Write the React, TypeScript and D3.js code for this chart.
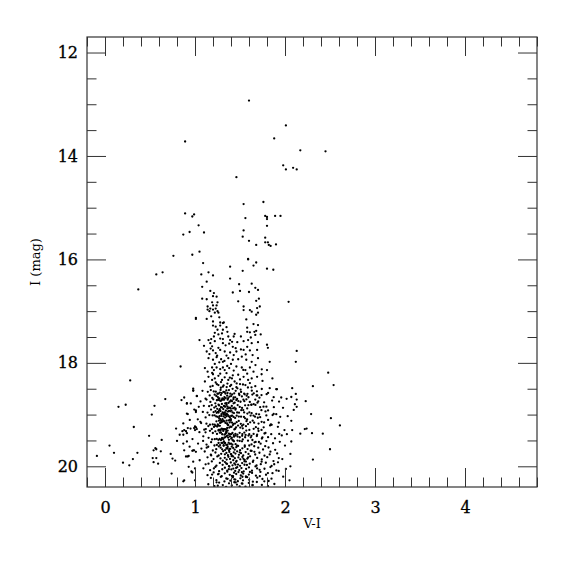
import React, { useRef, useEffect } from 'react';
import * as d3 from 'd3';

type Star = [number, number]; // [V-I, I]

// bright stars above the branch
const brightGiants: Star[] = [
  [1.60, 12.93], [2.01, 13.41], [0.89, 13.72], [1.88, 13.66], [2.17, 13.89], [2.45, 13.91],
  [1.98, 14.18], [2.01, 14.26], [2.09, 14.23], [2.13, 14.26], [1.46, 14.41], [1.54, 14.93],
  [1.76, 14.89], [0.89, 15.11], [0.97, 15.17], [0.99, 15.13], [1.56, 15.20], [1.78, 15.16],
  [1.80, 15.18], [1.80, 15.22], [1.89, 15.16], [1.95, 15.16], [1.04, 15.34], [1.54, 15.44],
  [1.80, 15.35], [0.87, 15.52], [0.94, 15.47], [1.10, 15.48],
];

const upperBranch: Star[] = [
  [1.53, 15.56], [1.60, 15.64], [1.68, 15.72], [1.78, 15.58], [1.78, 15.67], [1.81, 15.67],
  [1.82, 15.72], [1.84, 15.74], [1.90, 15.71], [0.97, 15.91], [1.05, 15.85], [0.76, 15.93],
  [1.59, 15.99], [1.59, 16.00], [1.68, 16.06], [1.65, 16.12], [1.09, 16.07], [1.39, 16.14],
  [1.80, 16.18], [1.87, 16.20], [1.53, 16.22], [1.15, 16.25], [1.07, 16.29], [1.20, 16.31],
  [1.39, 16.37], [0.57, 16.29], [0.64, 16.25], [0.37, 16.58], [1.13, 16.43], [1.08, 16.53],
  [1.49, 16.48], [1.63, 16.47], [1.67, 16.55], [1.70, 16.59], [1.42, 16.64], [1.50, 16.61],
  [1.60, 16.63], [1.17, 16.61], [1.21, 16.65], [1.24, 16.72], [1.20, 16.71], [1.08, 16.76],
  [1.13, 16.77], [1.19, 16.83], [1.25, 16.83], [1.20, 16.89], [1.24, 16.89], [1.48, 16.81],
  [1.68, 16.80], [1.71, 16.76], [2.04, 16.82], [1.14, 16.91], [1.17, 16.95], [1.14, 16.97],
  [1.20, 16.97], [1.16, 17.00], [1.23, 16.95], [1.25, 17.00], [1.22, 17.03], [1.26, 17.03],
  [1.54, 16.91], [1.54, 16.98], [1.61, 16.98], [1.63, 17.01], [1.70, 17.03], [1.69, 16.94],
  [1.72, 16.91],
];

const redGiantBranch: Star[] = [
  [1.01, 17.13], [1.01, 17.15], [1.13, 17.15], [1.20, 17.20], [1.28, 17.22], [1.32, 17.22],
  [1.68, 17.07], [1.57, 17.16], [1.20, 17.28], [1.23, 17.30], [1.28, 17.28], [1.31, 17.23],
  [1.58, 17.32], [1.65, 17.25], [1.70, 17.27], [1.66, 17.40], [1.58, 17.40], [1.61, 17.41],
  [1.68, 17.38], [1.73, 17.45], [1.05, 17.56], [1.10, 17.67], [1.15, 17.56], [1.17, 17.62],
  [1.18, 17.54], [1.22, 17.58], [1.22, 17.42], [1.21, 17.49], [1.26, 17.45], [1.30, 17.43],
  [1.31, 17.36], [1.36, 17.40], [1.28, 17.53], [1.31, 17.54], [1.37, 17.49], [1.39, 17.56],
  [1.43, 17.49], [1.31, 17.62], [1.38, 17.63], [1.42, 17.69], [1.44, 17.44], [1.51, 17.49],
  [1.54, 17.58], [1.59, 17.56], [1.62, 17.51], [1.67, 17.46], [1.63, 17.62], [1.58, 17.69],
  [1.54, 17.75], [1.51, 17.74], [1.61, 17.76], [1.69, 17.75], [1.64, 17.85], [1.70, 17.60],
  [1.80, 17.65], [1.81, 17.71], [1.83, 17.98], [1.80, 18.14],
  [1.13, 17.78], [1.16, 17.83], [1.20, 17.76], [1.23, 17.81], [1.28, 17.75], [1.33, 17.78],
  [1.39, 17.80], [1.43, 17.85], [1.46, 17.78],
  [1.15, 17.91], [1.20, 17.94], [1.24, 17.89], [1.29, 17.93], [1.31, 17.98], [1.37, 17.91],
  [1.42, 17.94], [1.48, 17.93], [1.52, 17.88], [1.57, 17.94], [1.63, 17.98], [1.70, 17.91],
  [1.11, 18.10], [1.14, 18.17], [1.19, 18.09], [1.21, 18.14], [1.24, 18.09], [1.28, 18.12],
  [1.31, 18.09], [1.33, 18.14], [1.38, 18.10], [1.43, 18.15], [1.46, 18.07], [1.52, 18.09],
  [1.56, 18.14], [1.61, 18.09], [1.65, 18.17], [1.48, 18.23],
  [1.15, 18.27], [1.19, 18.33], [1.22, 18.30], [1.26, 18.25], [1.30, 18.33], [1.33, 18.28],
  [1.37, 18.33], [1.41, 18.30], [1.44, 18.36], [1.50, 18.32], [1.54, 18.27], [1.59, 18.33],
  [1.63, 18.30], [1.69, 18.27], [1.11, 18.36], [1.26, 18.43], [1.31, 18.46], [1.39, 18.45],
  [1.46, 18.47], [1.56, 18.43], [1.61, 18.39], [1.67, 18.45], [1.17, 18.46],
  [1.18, 17.10], [1.27, 17.12], [1.35, 17.31], [1.25, 17.36], [1.19, 17.68], [1.26, 17.71],
  [1.34, 17.66], [1.47, 17.60], [1.35, 17.86], [1.27, 17.99], [1.40, 18.02], [1.22, 18.02],
  [1.35, 18.20], [1.28, 18.21], [1.20, 18.22], [1.42, 18.24], [1.58, 18.21], [1.74, 18.22],
  [1.36, 18.40], [1.23, 18.38], [1.50, 18.41], [1.75, 18.35], [1.86, 18.30],
  [1.243, 18.412], [1.318, 18.437], [1.287, 18.481], [1.402, 18.426], [1.352, 18.468], [1.471, 18.493],
  [1.196, 18.445], [1.533, 18.418], [1.628, 18.472],
  [1.174, 17.724], [1.246, 17.862], [1.327, 17.963], [1.452, 17.717], [1.563, 17.837], [1.672, 18.043],
  [1.191, 18.196], [1.387, 18.287], [1.537, 18.136], [1.289, 18.371], [1.463, 18.398], [1.412, 17.593],
  [1.358, 18.061], [1.742, 18.124], [1.588, 18.476],
];

// the faint clump, read band by band (0.1 mag bands)
const faintClump: Star[] = [
  [0.981, 18.531], [1.083, 18.541], [1.142, 18.559], [1.176, 18.526], [1.208, 18.553], [1.231, 18.558], [1.249, 18.597],
  [1.262, 18.593], [1.284, 18.523], [1.297, 18.584], [1.316, 18.562], [1.331, 18.564], [1.348, 18.533], [1.361, 18.583],
  [1.377, 18.527], [1.392, 18.595], [1.418, 18.502], [1.436, 18.588], [1.452, 18.541], [1.489, 18.597], [1.507, 18.516],
  [1.546, 18.593], [1.583, 18.599], [1.631, 18.537], [1.688, 18.551], [1.742, 18.505], [1.812, 18.582], [1.903, 18.509],
  [1.276, 18.574], [1.338, 18.594],
  [1.021, 18.645], [1.117, 18.692], [1.163, 18.630], [1.192, 18.678], [1.219, 18.616], [1.237, 18.640], [1.254, 18.662],
  [1.271, 18.686], [1.288, 18.620], [1.304, 18.689], [1.319, 18.698], [1.327, 18.662], [1.342, 18.680], [1.357, 18.634],
  [1.368, 18.682], [1.383, 18.653], [1.401, 18.642], [1.413, 18.611], [1.429, 18.670], [1.447, 18.667], [1.468, 18.698],
  [1.493, 18.621], [1.521, 18.648], [1.552, 18.608], [1.594, 18.665], [1.637, 18.613], [1.684, 18.628], [1.739, 18.623],
  [1.796, 18.606], [1.874, 18.664], [1.958, 18.670], [1.263, 18.693],
  [0.953, 18.784], [1.061, 18.746], [1.128, 18.709], [1.171, 18.755], [1.203, 18.705], [1.226, 18.782], [1.243, 18.723],
  [1.258, 18.717], [1.273, 18.725], [1.286, 18.735], [1.299, 18.794], [1.312, 18.708], [1.324, 18.712], [1.336, 18.784],
  [1.349, 18.781], [1.363, 18.711], [1.372, 18.774], [1.386, 18.750], [1.398, 18.728], [1.411, 18.741], [1.427, 18.702],
  [1.441, 18.770], [1.459, 18.719], [1.481, 18.738], [1.506, 18.752], [1.538, 18.711], [1.571, 18.705], [1.609, 18.755],
  [1.652, 18.796], [1.703, 18.744], [1.768, 18.762], [1.857, 18.729], [1.934, 18.748], [2.018, 18.695],
  [1.042, 18.849], [1.098, 18.830], [1.157, 18.838], [1.186, 18.819], [1.214, 18.864], [1.232, 18.842], [1.247, 18.888],
  [1.261, 18.810], [1.276, 18.897], [1.289, 18.856], [1.301, 18.865], [1.314, 18.893], [1.322, 18.834], [1.338, 18.846],
  [1.351, 18.812], [1.359, 18.884], [1.374, 18.875], [1.388, 18.864], [1.397, 18.882], [1.409, 18.833], [1.423, 18.878],
  [1.438, 18.867], [1.452, 18.883], [1.474, 18.816], [1.497, 18.852], [1.523, 18.871], [1.557, 18.820], [1.593, 18.819],
  [1.626, 18.809], [1.671, 18.814], [1.724, 18.856], [1.793, 18.848], [1.876, 18.856], [1.978, 18.869], [1.268, 18.823],
  [1.331, 18.846],
  [0.992, 18.903], [1.087, 18.948], [1.139, 18.961], [1.178, 18.904], [1.207, 18.954], [1.228, 18.932], [1.241, 18.966],
  [1.256, 18.948], [1.268, 18.921], [1.283, 18.933], [1.294, 18.993], [1.307, 18.960], [1.318, 18.972], [1.331, 18.960],
  [1.343, 18.924], [1.354, 18.991], [1.366, 18.941], [1.378, 18.927], [1.391, 18.937], [1.404, 18.924], [1.417, 18.958],
  [1.433, 18.970], [1.449, 18.906], [1.468, 18.960], [1.489, 18.963], [1.514, 18.915], [1.546, 18.958], [1.582, 18.981],
  [1.629, 18.974], [1.681, 18.988], [1.738, 18.915], [1.812, 18.920], [1.903, 18.992], [2.097, 18.909], [1.262, 18.962],
  [1.347, 18.982],
  [1.031, 19.092], [1.118, 19.054], [1.159, 19.009], [1.196, 19.017], [1.218, 19.015], [1.236, 19.036], [1.252, 19.043],
  [1.267, 19.067], [1.281, 19.089], [1.293, 19.025], [1.306, 19.090], [1.317, 19.036], [1.328, 19.000], [1.341, 19.011],
  [1.352, 19.033], [1.364, 19.005], [1.376, 19.030], [1.387, 19.054], [1.399, 19.088], [1.413, 19.020], [1.428, 19.046],
  [1.446, 19.065], [1.463, 19.021], [1.487, 19.038], [1.512, 19.041], [1.544, 19.046], [1.579, 19.095], [1.618, 19.019],
  [1.667, 19.041], [1.724, 19.051], [1.793, 19.016], [1.862, 19.009], [1.947, 19.043], [1.273, 19.030], [1.334, 19.057],
  [1.402, 19.027],
  [0.942, 19.103], [1.068, 19.165], [1.127, 19.175], [1.166, 19.195], [1.197, 19.191], [1.219, 19.195], [1.238, 19.130],
  [1.253, 19.192], [1.266, 19.118], [1.279, 19.161], [1.291, 19.117], [1.303, 19.138], [1.316, 19.119], [1.326, 19.132],
  [1.339, 19.161], [1.351, 19.117], [1.362, 19.193], [1.374, 19.110], [1.386, 19.151], [1.398, 19.118], [1.411, 19.154],
  [1.427, 19.180], [1.444, 19.174], [1.463, 19.146], [1.486, 19.123], [1.509, 19.179], [1.537, 19.196], [1.572, 19.127],
  [1.613, 19.149], [1.657, 19.156], [1.706, 19.173], [1.768, 19.151], [1.843, 19.188], [1.931, 19.157], [1.288, 19.152],
  [1.357, 19.172],
  [1.012, 19.248], [1.103, 19.291], [1.148, 19.222], [1.186, 19.279], [1.211, 19.238], [1.229, 19.218], [1.246, 19.230],
  [1.259, 19.211], [1.272, 19.294], [1.284, 19.291], [1.297, 19.271], [1.309, 19.282], [1.321, 19.281], [1.333, 19.282],
  [1.346, 19.284], [1.358, 19.259], [1.369, 19.204], [1.381, 19.252], [1.393, 19.235], [1.406, 19.236], [1.421, 19.202],
  [1.437, 19.287], [1.456, 19.247], [1.478, 19.213], [1.503, 19.252], [1.531, 19.266], [1.566, 19.224], [1.604, 19.297],
  [1.652, 19.275], [1.702, 19.272], [1.763, 19.247], [1.834, 19.209], [1.921, 19.236], [1.994, 19.299], [1.263, 19.295],
  [1.317, 19.295],
  [1.049, 19.341], [1.117, 19.342], [1.166, 19.313], [1.198, 19.356], [1.226, 19.323], [1.244, 19.373], [1.261, 19.309],
  [1.276, 19.350], [1.288, 19.348], [1.302, 19.380], [1.314, 19.316], [1.327, 19.388], [1.339, 19.372], [1.351, 19.342],
  [1.363, 19.309], [1.376, 19.369], [1.388, 19.380], [1.401, 19.378], [1.416, 19.356], [1.431, 19.396], [1.449, 19.371],
  [1.471, 19.387], [1.496, 19.353], [1.526, 19.376], [1.562, 19.394], [1.603, 19.380], [1.651, 19.373], [1.706, 19.317],
  [1.772, 19.366], [1.847, 19.379], [1.936, 19.373], [2.021, 19.379], [1.283, 19.312], [1.343, 19.358],
  [0.972, 19.473], [1.092, 19.420], [1.151, 19.450], [1.189, 19.480], [1.219, 19.475], [1.241, 19.468], [1.259, 19.487],
  [1.274, 19.472], [1.287, 19.493], [1.301, 19.452], [1.313, 19.474], [1.326, 19.446], [1.338, 19.434], [1.351, 19.415],
  [1.364, 19.405], [1.377, 19.487], [1.389, 19.423], [1.403, 19.466], [1.418, 19.494], [1.434, 19.428], [1.452, 19.405],
  [1.473, 19.425], [1.497, 19.438], [1.524, 19.410], [1.557, 19.438], [1.594, 19.406], [1.638, 19.491], [1.687, 19.414],
  [1.743, 19.462], [1.812, 19.437], [1.889, 19.458], [1.964, 19.403], [1.296, 19.477], [1.368, 19.445],
  [1.034, 19.561], [1.128, 19.580], [1.179, 19.533], [1.216, 19.598], [1.243, 19.587], [1.262, 19.549], [1.279, 19.589],
  [1.294, 19.548], [1.308, 19.548], [1.321, 19.520], [1.334, 19.545], [1.347, 19.586], [1.361, 19.583], [1.374, 19.543],
  [1.387, 19.565], [1.401, 19.563], [1.416, 19.581], [1.433, 19.517], [1.451, 19.572], [1.472, 19.503], [1.496, 19.509],
  [1.522, 19.517], [1.553, 19.598], [1.589, 19.505], [1.628, 19.576], [1.674, 19.528], [1.729, 19.562], [1.793, 19.513],
  [1.867, 19.554], [1.942, 19.527], [1.318, 19.591], [1.427, 19.506],
  [1.071, 19.657], [1.147, 19.622], [1.198, 19.694], [1.236, 19.668], [1.264, 19.613], [1.285, 19.639], [1.302, 19.671],
  [1.319, 19.604], [1.334, 19.686], [1.349, 19.650], [1.363, 19.627], [1.378, 19.693], [1.392, 19.662], [1.408, 19.618],
  [1.424, 19.645], [1.441, 19.679], [1.459, 19.631], [1.479, 19.606], [1.501, 19.688], [1.526, 19.653], [1.553, 19.624],
  [1.584, 19.667], [1.619, 19.699], [1.658, 19.612], [1.703, 19.640], [1.756, 19.675], [1.817, 19.636], [1.891, 19.681],
  [1.356, 19.659], [1.468, 19.602],
  [1.108, 19.714], [1.176, 19.776], [1.227, 19.733], [1.263, 19.791], [1.291, 19.758], [1.313, 19.707], [1.332, 19.769],
  [1.349, 19.742], [1.366, 19.785], [1.382, 19.721], [1.398, 19.763], [1.414, 19.797], [1.431, 19.730], [1.449, 19.754],
  [1.468, 19.711], [1.488, 19.778], [1.511, 19.746], [1.536, 19.789], [1.563, 19.725], [1.594, 19.760], [1.629, 19.703],
  [1.669, 19.772], [1.716, 19.738], [1.772, 19.794], [1.838, 19.717], [1.913, 19.751], [1.403, 19.766], [1.497, 19.729],
  [1.052, 19.883], [1.139, 19.826], [1.206, 19.861], [1.248, 19.809], [1.283, 19.847], [1.309, 19.892], [1.331, 19.835],
  [1.352, 19.870], [1.371, 19.815], [1.389, 19.858], [1.407, 19.804], [1.425, 19.881], [1.443, 19.843], [1.462, 19.896],
  [1.482, 19.828], [1.503, 19.864], [1.527, 19.819], [1.552, 19.875], [1.581, 19.852], [1.612, 19.807], [1.648, 19.889],
  [1.691, 19.837], [1.742, 19.866], [1.803, 19.823], [1.872, 19.898], [1.931, 19.841], [1.424, 19.812], [1.538, 19.855],
  [1.118, 19.962], [1.187, 19.905], [1.238, 19.988], [1.276, 19.934], [1.307, 19.971], [1.333, 19.919], [1.356, 19.953],
  [1.377, 19.997], [1.398, 19.926], [1.417, 19.980], [1.437, 19.944], [1.457, 19.913], [1.478, 19.967], [1.501, 19.991],
  [1.524, 19.938], [1.549, 19.902], [1.577, 19.975], [1.608, 19.949], [1.643, 19.916], [1.684, 19.984], [1.731, 19.959],
  [1.787, 19.931], [1.851, 19.993], [1.922, 19.922], [1.449, 19.968], [1.566, 19.908], [1.347, 19.945],
  [1.093, 20.039], [1.168, 20.074], [1.226, 20.012], [1.268, 20.095], [1.303, 20.057], [1.332, 20.028], [1.358, 20.083],
  [1.382, 20.006], [1.404, 20.061], [1.426, 20.044], [1.447, 20.090], [1.469, 20.017], [1.492, 20.072], [1.516, 20.035],
  [1.541, 20.099], [1.568, 20.050], [1.599, 20.021], [1.633, 20.086], [1.672, 20.003], [1.718, 20.068], [1.772, 20.047],
  [1.838, 20.014], [1.904, 20.079], [1.457, 20.032], [1.376, 20.056],
  [1.139, 20.171], [1.207, 20.118], [1.256, 20.154], [1.297, 20.192], [1.331, 20.136], [1.359, 20.103], [1.386, 20.165],
  [1.411, 20.187], [1.434, 20.124], [1.458, 20.149], [1.483, 20.111], [1.509, 20.178], [1.536, 20.140], [1.566, 20.196],
  [1.598, 20.159], [1.634, 20.127], [1.677, 20.182], [1.727, 20.108], [1.789, 20.163], [1.861, 20.133], [1.423, 20.191],
  [1.521, 20.115], [1.263, 20.146],
  [1.176, 20.225], [1.238, 20.268], [1.287, 20.204], [1.327, 20.293], [1.362, 20.241], [1.392, 20.277], [1.421, 20.213],
  [1.448, 20.256], [1.476, 20.289], [1.504, 20.232], [1.533, 20.270], [1.566, 20.208], [1.602, 20.261], [1.643, 20.297],
  [1.692, 20.219], [1.749, 20.245], [1.818, 20.284], [1.437, 20.252], [1.348, 20.236], [1.527, 20.202],
  [1.148, 20.347], [1.216, 20.382], [1.268, 20.315], [1.309, 20.363], [1.346, 20.396], [1.378, 20.329], [1.409, 20.371],
  [1.437, 20.308], [1.466, 20.354], [1.496, 20.388], [1.527, 20.336], [1.561, 20.392], [1.598, 20.321], [1.639, 20.367],
  [1.687, 20.303], [1.743, 20.359], [1.811, 20.384], [1.882, 20.342], [1.253, 20.376], [1.452, 20.311],
];

// outer edges of the clump
const clumpEdges: Star[] = [
  [1.62, 19.44], [1.71, 19.53], [1.78, 19.61], [1.66, 19.72], [1.83, 19.77], [1.59, 19.83], [1.74, 19.91],
  [1.69, 20.04], [1.81, 20.13], [1.58, 20.21], [1.77, 20.29], [1.64, 20.36], [1.88, 19.96], [1.55, 19.97],
  [1.61, 20.11], [1.72, 20.19], [1.85, 20.24], [1.93, 20.09], [1.52, 20.33], [1.69, 19.39], [1.57, 19.31],
  [1.74, 19.14], [1.65, 19.02], [1.58, 18.88], [1.67, 18.71], [1.13, 19.64], [1.18, 19.79], [1.09, 19.51],
  [1.15, 19.95], [1.21, 20.04], [1.12, 19.28], [1.06, 19.14], [1.24, 20.31], [1.19, 20.16],
  [1.512, 18.562], [1.574, 18.634], [1.653, 18.588], [1.716, 18.673], [1.548, 18.741], [1.627, 18.812],
  [1.694, 18.769], [1.761, 18.847], [1.536, 18.913], [1.604, 18.956], [1.712, 18.994], [1.783, 18.938],
  [1.557, 19.073], [1.641, 19.118], [1.698, 19.061], [1.812, 19.104], [1.523, 19.217], [1.589, 19.183],
  [1.676, 19.244], [1.739, 19.296], [1.548, 19.347], [1.627, 19.411], [1.783, 19.356], [1.531, 19.482],
  [1.662, 19.536], [1.603, 19.598], [1.749, 19.443], [1.852, 19.197], [1.874, 18.988], [1.692, 18.631],
  [1.297, 18.718], [1.362, 18.847], [1.318, 18.993], [1.389, 19.104], [1.276, 19.217], [1.347, 19.322],
  [1.409, 19.447], [1.332, 19.553], [1.381, 19.664], [1.429, 18.783], [1.254, 18.951], [1.447, 19.274],
];

const blueField: Star[] = [
  [0.84, 18.07], [0.28, 18.34], [0.98, 18.54], [0.67, 18.70], [0.88, 18.67], [0.91, 18.79], [0.15, 18.85], [0.23, 18.81],
  [0.55, 18.83], [0.52, 19.00], [0.92, 18.99], [1.01, 18.95], [0.32, 19.24], [0.79, 19.27], [0.86, 19.32], [0.90, 19.32],
  [0.92, 19.26], [0.95, 19.27], [0.99, 19.26], [1.00, 19.30], [1.02, 19.28], [0.87, 19.39], [0.49, 19.41], [0.63, 19.49],
  [0.80, 19.51], [0.91, 19.52], [0.87, 19.56], [0.05, 19.60], [0.10, 19.74], [0.36, 19.74], [0.56, 19.65], [0.57, 19.67],
  [0.54, 19.69], [0.62, 19.71], [0.73, 19.76], [0.97, 19.70], [0.99, 19.69], [1.01, 19.72], [0.92, 19.81], [0.93, 19.80],
  [-0.09, 19.80], [0.31, 19.86], [0.53, 19.84], [0.57, 19.84], [0.75, 19.85], [0.78, 19.89], [0.20, 19.93], [0.27, 19.98],
  [0.54, 19.92], [0.59, 19.95], [0.74, 20.14], [0.96, 20.10], [1.00, 20.04], [0.88, 20.27],
  [0.83, 19.39], [0.88, 19.30], [0.91, 19.36], [1.00, 19.23], [0.94, 19.62], [0.88, 19.69], [0.98, 19.69], [0.90, 19.81],
  [0.98, 19.91], [0.93, 20.01], [0.97, 20.12], [0.87, 20.29], [1.00, 20.27], [0.85, 18.72], [0.91, 18.78], [0.98, 18.50],
  [1.02, 18.64], [0.91, 18.98], [1.01, 18.92], [0.87, 19.17],
];

const redField: Star[] = [
  [2.13, 17.77], [2.12, 17.98], [2.48, 18.19], [2.54, 18.43], [2.31, 18.45], [2.08, 18.49], [2.07, 18.66], [2.13, 18.71],
  [2.23, 18.74], [2.13, 18.85], [2.29, 18.99], [2.51, 19.07], [2.61, 19.21], [2.07, 19.12], [2.08, 19.30], [2.22, 19.28],
  [2.24, 19.27], [2.17, 19.37], [2.30, 19.36], [2.42, 19.37], [2.07, 19.52], [2.50, 19.67], [2.06, 19.76], [2.31, 19.87],
  [2.06, 20.00], [1.83, 18.49], [1.91, 18.51], [2.12, 18.60], [2.11, 18.80], [2.01, 20.05], [2.05, 20.27], [2.00, 19.60],
  [1.97, 19.86], [1.98, 20.20], [2.03, 19.03],
];

const xMajorTicks = [0, 1, 2, 3, 4];
const yMajorTicks = [12, 14, 16, 18, 20];
const xLabel = 'V-I';
const yLabel = 'I (mag)';

function App() {
  const svgRef = useRef<SVGSVGElement>(null);

  useEffect(() => {
    const margin = { top: 37, right: 38, bottom: 88, left: 87 },
      width = 575 - margin.left - margin.right,
      height = 575 - margin.top - margin.bottom;

    const root = d3.select(svgRef.current);
    root.selectAll('*').remove();

    const g = root.append('g').attr('transform', `translate(${margin.left},${margin.top})`);

    const x = d3.scaleLinear().domain([-0.2, 4.8]).range([0, width]);
    const y = d3.scaleLinear().domain([11.7, 20.4]).range([0, height]);

    const xMinor = d3.range(-0.2, 4.81, 0.2).filter(v => Math.abs(v - Math.round(v)) > 0.01);
    const yMinor = d3.range(12, 20.41, 0.5).filter(v => v % 2 !== 0);

    const font = "'DejaVu Serif', serif";
    const major = 19, minor = 9.5;

    // clip for the stars
    g.append('clipPath').attr('id', 'plot-clip')
      .append('rect').attr('width', width).attr('height', height);

    const stars = [...brightGiants, ...upperBranch, ...redGiantBranch, ...faintClump, ...clumpEdges, ...blueField, ...redField];
    g.append('g').attr('clip-path', 'url(#plot-clip)')
      .selectAll('circle')
      .data(stars)
      .enter().append('circle')
      .attr('cx', d => x(d[0]))
      .attr('cy', d => y(d[1]))
      .attr('r', 1.15)
      .attr('fill', '#000');

    const styleAxis = (sel: any) => {
      sel.select('.domain').remove();
      sel.selectAll('line').attr('stroke', '#333').attr('stroke-width', 1);
      sel.selectAll('text').attr('font-family', font).attr('font-size', 16).attr('fill', '#000')
        .attr('stroke', '#000').attr('stroke-width', 0.3);
    };

    // bottom
    g.append('g').attr('transform', `translate(0,${height})`)
      .call(d3.axisBottom(x).tickValues(xMajorTicks).tickSize(-major).tickPadding(15).tickFormat(d3.format('d')))
      .call(styleAxis);
    g.append('g').attr('transform', `translate(0,${height})`)
      .call(d3.axisBottom(x).tickValues(xMinor).tickSize(-minor).tickFormat(() => ''))
      .call(styleAxis);
    // top
    g.append('g')
      .call(d3.axisTop(x).tickValues(xMajorTicks).tickSize(-major).tickFormat(() => ''))
      .call(styleAxis);
    g.append('g')
      .call(d3.axisTop(x).tickValues(xMinor).tickSize(-minor).tickFormat(() => ''))
      .call(styleAxis);
    // left
    g.append('g')
      .call(d3.axisLeft(y).tickValues(yMajorTicks).tickSize(-major).tickPadding(9).tickFormat(d3.format('d')))
      .call(styleAxis);
    g.append('g')
      .call(d3.axisLeft(y).tickValues(yMinor).tickSize(-minor).tickFormat(() => ''))
      .call(styleAxis);
    // right
    g.append('g').attr('transform', `translate(${width},0)`)
      .call(d3.axisRight(y).tickValues(yMajorTicks).tickSize(-major).tickFormat(() => ''))
      .call(styleAxis);
    g.append('g').attr('transform', `translate(${width},0)`)
      .call(d3.axisRight(y).tickValues(yMinor).tickSize(-minor).tickFormat(() => ''))
      .call(styleAxis);

    // frame
    g.append('rect')
      .attr('width', width).attr('height', height)
      .attr('fill', 'none').attr('stroke', '#333').attr('stroke-width', 1.2);

    // axis titles
    g.append('text')
      .attr('x', width / 2).attr('y', height + 41)
      .attr('text-anchor', 'middle')
      .attr('font-family', font).attr('font-size', 13)
      .text(xLabel);

    g.append('text')
      .attr('transform', `translate(${-47.5},${height / 2}) rotate(-90)`)
      .attr('text-anchor', 'middle')
      .attr('font-family', font).attr('font-size', 13)
      .text(yLabel);
  }, []);

  return (
    <svg ref={svgRef} width={575} height={575}
      style={{ position: 'absolute', left: 0, top: 0, background: '#fff' }} />
  );
}

export default App;
